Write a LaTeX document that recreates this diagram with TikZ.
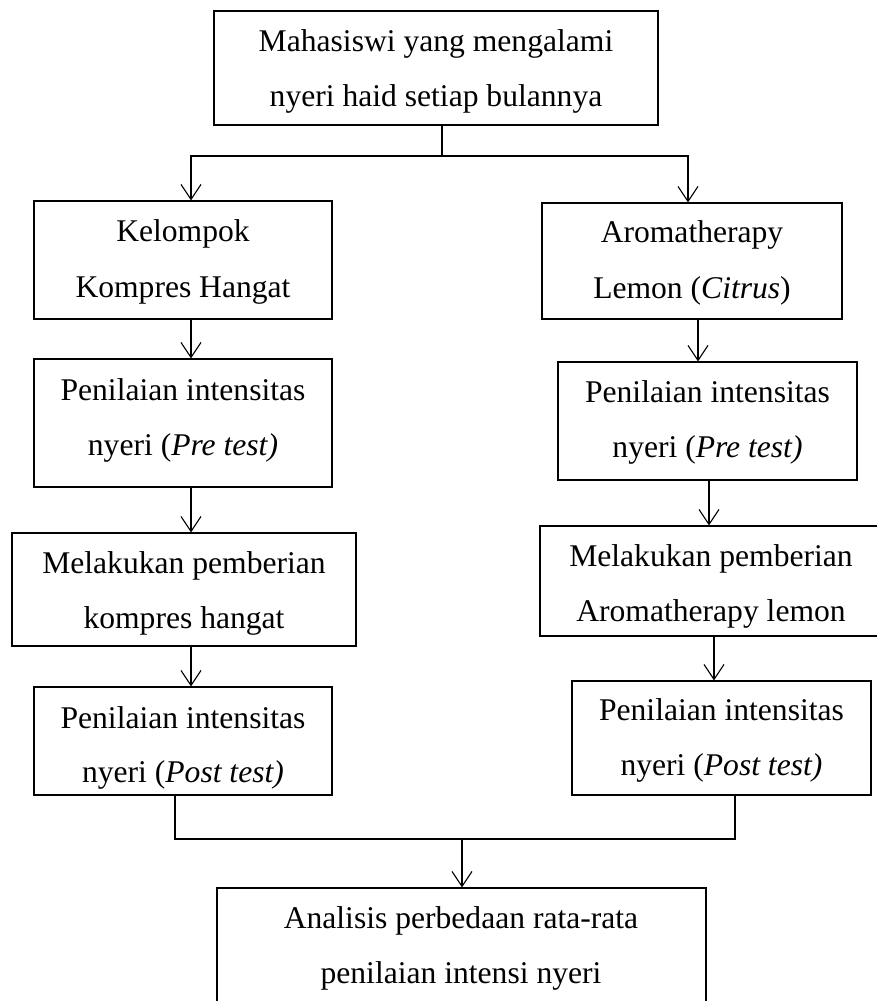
\documentclass[tikz,border=0pt]{standalone}
\usepackage{fontspec}
\setmainfont{Liberation Serif}
\usetikzlibrary{arrows.meta}
\begin{document}
\begin{tikzpicture}[x=1pt,y=-1pt,
  box/.style={draw, line width=1.2pt, rectangle, inner sep=0pt},
  txt/.style={anchor=base, inner sep=0pt, font=\fontsize{31.6pt}{55pt}\selectfont},
  arr/.style={line width=1.1pt, -{Straight Barb[length=15pt,width=20pt,line width=1.1pt]}},
  link/.style={line width=1.8pt, line cap=rect},
]
\useasboundingbox (0,0) rectangle (877,1001);
\clip (0,0) rectangle (877,1001);

% boxes
\node[box, minimum width=444pt, minimum height=114pt] (top) at (436,68) {};
\node[box, minimum width=298pt, minimum height=118pt] (L1) at (183,260) {};
\node[box, minimum width=300pt, minimum height=116pt] (R1) at (692,261) {};
\node[box, minimum width=298pt, minimum height=128pt] (L2) at (183,423) {};
\node[box, minimum width=299pt, minimum height=118pt] (R2) at (707.5,421) {};
\node[box, minimum width=344pt, minimum height=113pt] (L3) at (184,589.5) {};
\node[box, minimum width=344pt, minimum height=110pt] (R3) at (712,581) {};
\node[box, minimum width=298pt, minimum height=108pt] (L4) at (183,741) {};
\node[box, minimum width=299pt, minimum height=114pt] (R4) at (721.5,738) {};
\node[box, minimum width=489pt, minimum height=172pt] (B) at (461.5,974) {};

% texts
\node[txt] (t1a) at (436,51) {Mahasiswi yang mengalami};
\node[txt] (t1b) at (436,106) {nyeri haid setiap bulannya};
\node[txt] (l1a) at (183,241) {Kelompok};
\node[txt] (l1b) at (183,297) {Kompres Hangat};
\node[txt] (r1a) at (692,242) {Aromatherapy};
\node[txt] (r1b) at (692,298) {Lemon (\textit{Citrus})};
\node[txt] (l2a) at (183,400) {Penilaian intensitas};
\node[txt] (l2b) at (183,455) {nyeri (\textit{Pre test)}};
\node[txt] (r2a) at (707.5,402) {Penilaian intensitas};
\node[txt] (r2b) at (707.5,457) {nyeri (\textit{Pre test)}};
\node[txt] (l3a) at (184,573) {Melakukan pemberian};
\node[txt] (l3b) at (184,628) {kompres hangat};
\node[txt] (r3a) at (711,566) {Melakukan pemberian};
\node[txt] (r3b) at (711,621) {Aromatherapy lemon};
\node[txt] (l4a) at (183,728) {Penilaian intensitas};
\node[txt] (l4b) at (183,782) {nyeri (\textit{Post test)}};
\node[txt] (r4a) at (721.5,720) {Penilaian intensitas};
\node[txt] (r4b) at (721.5,775) {nyeri (\textit{Post test)}};
\node[txt] (ba) at (461,928) {Analisis perbedaan rata-rata};
\node[txt] (bb) at (461,983) {penilaian intensi nyeri};

% junction coordinates
\coordinate (s) at (442,156);
\coordinate (bl) at (191,156);
\coordinate (br) at (688,156);
\coordinate (xr1) at (698,0);
\coordinate (xr2) at (709,0);
\coordinate (xr3) at (714,0);
\coordinate (xl) at (175,0);
\coordinate (xr) at (735,0);
\coordinate (jm) at (462,839);

% connectors
\draw[link] (top.south -| s) -- (s);
\draw[link] (bl) -- (br);
\draw[arr] (bl) -- (bl |- L1.north);
\draw[arr] (br) -- (br |- R1.north);
\draw[arr] (L1.south -| bl) -- (L2.north -| bl);
\draw[arr] (L2.south -| bl) -- (L3.north -| bl);
\draw[arr] (L3.south -| bl) -- (L4.north -| bl);
\draw[arr] (R1.south -| xr1) -- (R2.north -| xr1);
\draw[arr] (R2.south -| xr2) -- (R3.north -| xr2);
\draw[arr] (R3.south -| xr3) -- (R4.north -| xr3);
\draw[link] (L4.south -| xl) -- (xl |- jm) -- (xr |- jm) -- (R4.south -| xr);
\draw[arr] (jm) -- (jm |- B.north);
\end{tikzpicture}
\end{document}
